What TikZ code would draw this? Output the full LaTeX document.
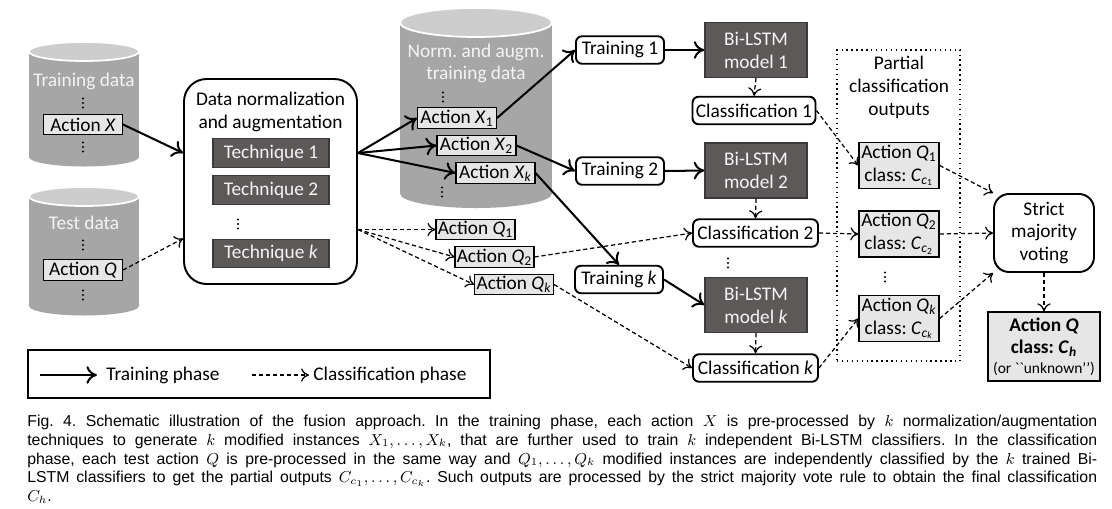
\documentclass[tikz,border=0pt]{standalone}
\usepackage[no-math]{fontspec}
\setmainfont{Carlito}
\newfontfamily\capfont{Liberation Sans}
\usetikzlibrary{arrows.meta,backgrounds}
\definecolor{cylbody}{HTML}{A6A6A6}
\definecolor{cyltop}{HTML}{CDCDCD}
\definecolor{cyltext}{HTML}{F4F4F4}
\definecolor{boxfill}{HTML}{E6E6E6}
\definecolor{darkfill}{HTML}{5E5959}
\definecolor{darkline}{HTML}{3A3A3A}
\newcommand{\subidx}[1]{\textsubscript{#1}}
\newcommand{\capline}[1]{\makebox[21.4cm][s]{#1}}
\frenchspacing
\begin{document}
\begin{tikzpicture}[x=0.02cm, y=-0.02cm, font=\fontsize{11}{13}\selectfont,
  trainline/.style={line width=1.15pt, -{To[length=6pt,width=10pt]}},
  classline/.style={line width=0.7pt, dash pattern=on 2.4pt off 1.6pt, -{To[length=4.5pt,width=7.5pt]}},
  cylnote/.style={text=cyltext, align=center},
  actbox/.style={draw, fill=boxfill, line width=0.6pt, inner sep=1pt, minimum width=1.58cm, minimum height=0.41cm},
  darkbox/.style={draw=darkline, fill=darkfill, text=cyltext, line width=0.8pt, align=center},
  stepbox/.style={draw, fill=white, line width=1.1pt, rounded corners=0.12cm, minimum height=0.55cm, inner sep=1pt},
  outbox/.style={draw, fill=boxfill, line width=0.8pt, align=center, inner sep=0pt, minimum width=1.6cm, minimum height=0.92cm},
  capnode/.style={anchor=west, inner sep=0pt, font=\capfont\fontsize{9}{10}\selectfont}]
\fill[white] (0,0) rectangle (1112,508);
\useasboundingbox (0,0) rectangle (1112,508);

% data cylinders
\foreach \cx/\rx/\ty/\by/\ry in {84/55/51.5/157/9.5, 84/55/196.5/306/9.5, 476/76/22.5/193.5/14.5} {
  \fill[cylbody] (\cx-\rx,\ty) rectangle (\cx+\rx,\by);
  \fill[cylbody] (\cx,\by) ellipse [x radius=\rx*0.02cm, y radius=\ry*0.02cm];
  \filldraw[fill=cyltop, draw=white, line width=1pt] (\cx,\ty) ellipse [x radius=\rx*0.02cm, y radius=\ry*0.02cm];
}
\foreach \x/\y in {83/103, 83/147, 83/245, 83/295, 443/97, 442/192, 238/224, 728/263, 885/277}
  \foreach \d in {-4.5,0,4.5} \fill (\x,\y+\d) circle (0.65pt);

\node[cylnote] (trainlbl) at (84,81) {Training data};
\node[actbox] (actx) at (83,124.5) {Action \textit{X}};
\node[cylnote] (testlbl) at (84,223) {Test data};
\node[actbox] (actq) at (83,270) {Action \textit{Q}};

% normalization and augmentation
\node[draw, line width=1.1pt, rounded corners=0.45cm, minimum width=3.46cm, minimum height=4.1cm] (norm) at (270.5,181.5) {};
\node[align=center] (normlbl) at (270.5,112) {Data normalization\\and augmentation};
\node[darkbox, minimum width=2.32cm, minimum height=0.57cm] (tech1) at (271,153) {Technique 1};
\node[darkbox, minimum width=2.32cm, minimum height=0.57cm] (tech2) at (271,190) {Technique 2};
\node[darkbox, minimum width=2.32cm, minimum height=0.57cm] (techk) at (271,253.5) {Technique \textit{k}};

\node[cylnote] (auglbl) at (476,63.5) {Norm. and augm.\\training data};
\node[actbox] (x1) at (457,118) {Action \textit{X}\subidx{1}};
\node[actbox] (x2) at (476.5,145.5) {Action \textit{X}\subidx{2}};
\node[actbox] (xk) at (495.5,173) {Action \textit{X}\subidx{\textit{k}}};
\node[actbox] (q1) at (475.5,229.5) {Action \textit{Q}\subidx{1}};
\node[actbox] (q2) at (494.5,257) {Action \textit{Q}\subidx{2}};
\node[actbox] (qk) at (514,284.5) {Action \textit{Q}\subidx{\textit{k}}};

% training and classification
\node[stepbox, minimum width=1.76cm] (train1) at (620,50) {Training 1};
\node[stepbox, minimum width=1.76cm] (train2) at (620,171) {Training 2};
\node[stepbox, minimum width=1.76cm] (traink) at (619,279.5) {Training \textit{k}};
\node[darkbox, minimum width=2.04cm, minimum height=1.1cm] (model1) at (756,50) {Bi-LSTM\\model 1};
\node[darkbox, minimum width=2.04cm, minimum height=1.1cm] (model2) at (756,170.5) {Bi-LSTM\\model 2};
\node[darkbox, minimum width=2.04cm, minimum height=1.1cm] (modelk) at (756,305) {Bi-LSTM\\model \textit{k}};
\node[stepbox, minimum width=2.46cm] (class1) at (754,110.5) {Classification 1};
\node[stepbox, minimum width=2.5cm] (class2) at (755.5,233) {Classification 2};
\node[stepbox, minimum width=2.5cm] (classk) at (755.5,368) {Classification \textit{k}};

% partial outputs and voting
\node[draw, dotted, line width=0.8pt, minimum width=2.46cm, minimum height=6.22cm] (partial) at (898.5,205.5) {};
\node[align=center] (partlbl) at (899,87.5) {Partial\\classification\\outputs};
\node[outbox] (out1) at (899,165.5) {Action \textit{Q}\subidx{1}\\class: \textit{C}\subidx{\textit{c}\subidx{1}}};
\node[outbox] (out2) at (899,234) {Action \textit{Q}\subidx{2}\\class: \textit{C}\subidx{\textit{c}\subidx{2}}};
\node[outbox] (outk) at (899,318.5) {Action \textit{Q}\subidx{\textit{k}}\\class: \textit{C}\subidx{\textit{c}\subidx{\textit{k}}}};
\node[draw, line width=1.1pt, rounded corners=0.3cm, align=center, minimum width=2cm, minimum height=1.56cm] (vote) at (1044,233) {Strict\\majority\\voting};
\node[draw, fill=boxfill, line width=0.8pt, align=center, inner sep=0pt, minimum width=2.24cm, minimum height=1.38cm] (final) at (1044,346.5)
  {\textbf{Action \textit{Q}}\\\textbf{class: \textit{C}\subidx{\textit{h}}}\\[-2pt]{\fontsize{8.8}{10}\selectfont(or \textasciigrave\textasciigrave unknown{’}{’})}};

% connectors
\draw[trainline] (actx.east) -- (norm.west |- tech1);
\draw[classline] (actq.east) -- (norm.west |- techk.north);
\foreach \t in {x1,x2,xk} \draw[trainline] (norm.east |- tech1) -- (\t.west);
\foreach \t in {q1,q2,qk} \draw[classline] (norm.east |- q1) -- (\t.west);
\draw[trainline] (x1.east) -- (train1.west);
\draw[trainline] (x2.east) -- (train2.west);
\draw[trainline] (xk.east) -- (traink.north);
\foreach \i in {1,2,k} {
  \draw[trainline] (train\i.east) -- (model\i.west);
  \draw[classline] (model\i.south) -- (class\i.north);
  \draw[classline] (class\i.east) -- (out\i.west);
}
\begin{pgfonlayer}{background}
\draw[classline] (q1.east) -- (class1.west);
\end{pgfonlayer}
\draw[classline] (q2.east) -- (class2.west);
\draw[classline] (qk.east) -- (classk.west);
\draw[classline] (out1.east) -- (vote.north west);
\draw[classline] (out2.east) -- (vote.west);
\draw[classline] (outk.east) -- (vote.south west);
\draw[classline] (vote.south) -- (final.north);

% legend
\node[draw, line width=0.8pt, minimum width=9.24cm, minimum height=0.96cm] (legend) at (259,374) {};
\coordinate (lg1) at (40,375);
\coordinate (lg2) at (97,375);
\coordinate (lg3) at (252,375);
\coordinate (lg4) at (309,375);
\draw[trainline] (lg1) -- (lg2);
\draw[classline] (lg3) -- (lg4);
\node[anchor=west, inner sep=0pt] (lgtrain) at (106,375) {Training phase};
\node[anchor=west, inner sep=0pt] (lgclass) at (313,375) {Classification phase};

% caption
\node[capnode] (cap1) at (27,422) {\capline{Fig.~4. Schematic illustration of the fusion approach. In the training phase, each action $X$ is pre-processed by $k$ normalization/augmentation}};
\node[capnode] (cap2) at (27,441) {\capline{techniques to generate $k$ modified instances $X_1,\ldots,X_k$, that are further used to train $k$ independent Bi-LSTM classifiers. In the classification}};
\node[capnode] (cap3) at (27,460) {\capline{phase, each test action $Q$ is pre-processed in the same way and $Q_1,\ldots,Q_k$ modified instances are independently classified by the $k$ trained Bi-}};
\node[capnode] (cap4) at (27,479) {\capline{LSTM classifiers to get the partial outputs $C_{c_1},\ldots,C_{c_k}$. Such outputs are processed by the strict majority vote rule to obtain the final classification}};
\node[capnode] (cap5) at (27,497) {$C_h$.};
\end{tikzpicture}
\end{document}
